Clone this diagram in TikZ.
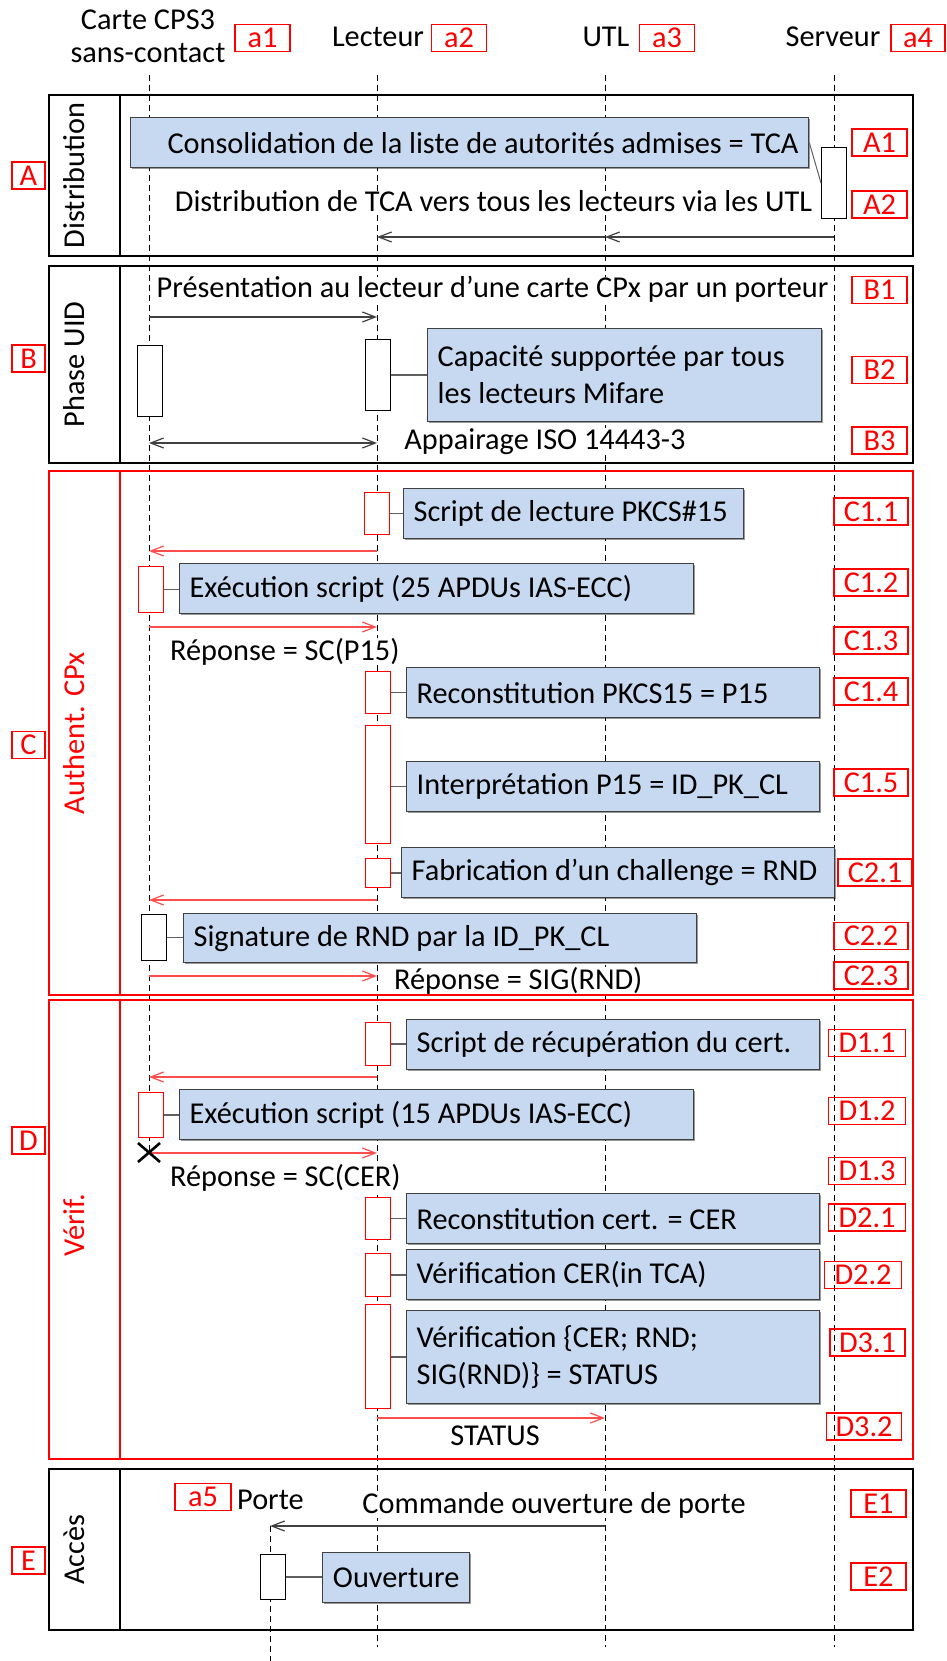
\documentclass[tikz,border=0pt]{standalone}
\usepackage{fontspec}
\setmainfont{Carlito}
\usetikzlibrary{arrows.meta,shadows}
\definecolor{noteblue}{HTML}{C6D9F1}
\definecolor{notedraw}{HTML}{404040}
\definecolor{msgblack}{HTML}{404040}
\definecolor{msgred}{HTML}{FF4D4D}
\definecolor{conngray}{HTML}{606060}
\newcommand{\ntl}[2]{\makebox[#1][l]{#2}}
\newcommand{\ntr}[2]{\makebox[#1][r]{#2}}
\newcommand{\ntc}[2]{\makebox[#1][c]{#2}}
\newcommand{\ntp}[2]{\parbox{#1}{\raggedright #2}}
\tikzset{
  txt/.style={font=\fontsize{30.3}{37}\selectfont, inner sep=0pt},
  msgtxt/.style={txt, fill=white},
  lifeline/.style={draw=black, line width=1pt, dash pattern=on 6pt off 4pt},
  secblack/.style={draw=black, line width=1.3pt},
  secred/.style={draw=red, line width=1.3pt},
  seclab/.style={txt, rotate=90, anchor=base},
  lab/.style={draw=red, text=red, line width=1.4pt, txt, minimum height=27pt, inner sep=0pt},
  actb/.style={draw=black, fill=white, line width=1.2pt, minimum width=25pt, inner sep=0pt, anchor=north west},
  actr/.style={actb, draw=red},
  note/.style={draw=notedraw, fill=noteblue, line width=1.3pt, txt, inner xsep=10pt, inner ysep=0pt,
     anchor=north west,
     drop shadow={shadow xshift=1pt, shadow yshift=-1.5pt, fill=black, opacity=0.4}},
  conn/.style={draw=conngray, line width=1.5pt},
  msg/.style={draw=msgblack, line width=1.4pt, -{Straight Barb[length=13pt,width=10pt,line width=1.2pt]}},
  msgr/.style={msg, draw=msgred},
}
\begin{document}
\begin{tikzpicture}[x=1pt,y=-1pt]
\useasboundingbox (0,0) rectangle (946,1661);
% lifeline ends
\coordinate (cT) at (149,75);  \coordinate (cB) at (149,1152);
\coordinate (lT) at (377,75);  \coordinate (lB) at (377,1647);
\coordinate (uT) at (605,75);  \coordinate (uB) at (605,1647);
\coordinate (sT) at (834,75);  \coordinate (sB) at (834,1647);
\coordinate (pT) at (270,1526); \coordinate (pB) at (270,1661);
\draw[lifeline] (cT) -- (cB);
\draw[lifeline] (lT) -- (lB);
\draw[lifeline] (uT) -- (uB);
\draw[lifeline] (sT) -- (sB);
\draw[lifeline] (pT) -- (pB);

% header
\node[txt, anchor=base] (hcard1) at (148,30) {Carte CPS3};
\node[txt, anchor=base] (hcard2) at (148,63) {sans-contact};
\node[txt, anchor=base] (hlect) at (378,47) {Lecteur};
\node[txt, anchor=base] (hutl) at (606,47) {UTL};
\node[txt, anchor=base] (hserv) at (833,47) {Serveur};
\node[lab, minimum width=55pt] (la1) at (262.5,38) {a1};
\node[lab, minimum width=55pt] (la2) at (459,38) {a2};
\node[lab, minimum width=55pt] (la3) at (667,38) {a3};
\node[lab, minimum width=54pt] (la4) at (918,38) {a4};

% section frames
\draw[secblack] (49,95) rectangle (913,256); \draw[secblack] (120,95) -- (120,256);
\draw[secblack] (49,266) rectangle (913,463); \draw[secblack] (120,266) -- (120,463);
\draw[secred] (49,471) rectangle (913,995); \draw[secred] (120,471) -- (120,995);
\draw[secred] (49,1000) rectangle (913,1459); \draw[secred] (120,1000) -- (120,1459);
\draw[secblack] (49,1469) rectangle (913,1630); \draw[secblack] (120,1469) -- (120,1630);
\node[seclab] (sA) at (84,175.5) {Distribution};
\node[seclab] (sB) at (84,364.5) {Phase UID};
\node[seclab, text=red] (sC) at (84,733) {Authent. CPx};
\node[seclab, text=red] (sD) at (84,1225) {Vérif.};
\node[seclab] (sE) at (84,1549.5) {Accès};
\node[lab, minimum width=33pt] (lA) at (28.5,175.5) {A};
\node[lab, minimum width=33pt] (lB) at (28.5,358.5) {B};
\node[lab, minimum width=33pt] (lC) at (28.5,745) {C};
\node[lab, minimum width=33pt] (lD) at (28.5,1140.5) {D};
\node[lab, minimum width=33pt] (lE) at (28.5,1560.5) {E};

% ===== A =====
\node[actb, minimum height=71pt] (aA) at (821,147) {};
\node[note, minimum height=50pt] (nA) at (130,117)
  {\ntr{658pt}{Consolidation de la liste de autorités admises = TCA}};
\draw[conn, line width=1pt] (nA.east) -- (aA.west);
\node[msgtxt, anchor=base] (tA2) at (493.5,212) {Distribution de TCA vers tous les lecteurs via les UTL};
\coordinate (mA1) at (834,237); \coordinate (mA2) at (605,237); \coordinate (mA3) at (377,237);
\draw[msg] (mA1) -- (mA2);
\draw[msg] (mA2) -- (mA3);
\node[lab, minimum width=55pt] (lA1) at (879.5,142.5) {A1};
\node[lab, minimum width=55pt] (lA2) at (879.5,204.5) {A2};

% ===== B =====
\node[msgtxt, anchor=base] (tB1) at (492.5,298) {Présentation au lecteur d’une carte CPx par un porteur};
\coordinate (mB1a) at (149,317); \coordinate (mB1b) at (377,317);
\draw[msg] (mB1a) -- (mB1b);
\node[actb, minimum height=71pt] (aB1) at (137,345) {};
\node[actb, minimum height=71pt] (aB2) at (365,339) {};
\node[note, minimum height=93pt] (nB) at (427,328)
  {\ntp{374pt}{Capacité supportée par tous\\les lecteurs Mifare}};
\draw[conn] (aB2.east) -- (aB2.east -| nB.west);
\coordinate (mB3a) at (149,443); \coordinate (mB3b) at (377,443);
\draw[msg, {Straight Barb[length=13pt,width=10pt,line width=1.2pt]}-{Straight Barb[length=13pt,width=10pt,line width=1.2pt]}] (mB3a) -- (mB3b);
\node[msgtxt, anchor=base] (tB3) at (545,449) {Appairage ISO 14443-3};
\node[lab, minimum width=55pt] (lB1) at (879.5,290) {B1};
\node[lab, minimum width=55pt] (lB2) at (879.5,370) {B2};
\node[lab, minimum width=55pt] (lB3) at (879.5,440.5) {B3};

% ===== C =====
\node[actr, minimum height=42pt] (aC11) at (364,492) {};
\node[note, minimum height=50pt] (nC11) at (403,488) {\ntl{320pt}{Script de lecture PKCS\#15}};
\draw[conn] (aC11.east) -- (aC11.east -| nC11.west);
\coordinate (mC1a) at (377,551); \coordinate (mC1b) at (149,551);
\draw[msgr] (mC1a) -- (mC1b);
\node[actr, minimum height=46pt] (aC12) at (138,566) {};
\node[note, minimum height=50pt] (nC12) at (179,563) {\ntl{494pt}{Exécution script (25 APDUs IAS-ECC)}};
\draw[conn] (aC12.east) -- (aC12.east -| nC12.west);
\coordinate (mC2a) at (149,627); \coordinate (mC2b) at (377,627);
\draw[msgr] (mC2a) -- (mC2b);
\node[msgtxt, anchor=base west] (tC13) at (170,660) {Réponse = SC(P15)};
\node[actr, minimum height=42pt] (aC14) at (365,671) {};
\node[note, minimum height=50pt] (nC14) at (406,667) {\ntl{393pt}{Reconstitution PKCS15 = P15}};
\draw[conn] (aC14.east) -- (aC14.east -| nC14.west);
\node[actr, minimum height=118pt] (aC15) at (365,725) {};
\node[note, minimum height=50pt] (nC15) at (406,761) {\ntl{393pt}{Interprétation P15 = ID\_PK\_CL}};
\draw[conn] (aC15.east |- nC15.west) -- (nC15.west);
\node[actr, minimum height=29pt] (aC21) at (365,858) {};
\node[note, minimum height=50pt] (nC21) at (401,847) {\ntl{413pt}{Fabrication d’un challenge = RND}};
\draw[conn] (aC21.east) -- (aC21.east -| nC21.west);
\coordinate (mC3a) at (377,900); \coordinate (mC3b) at (149,900);
\draw[msgr] (mC3a) -- (mC3b);
\node[actb, minimum height=46pt] (aC22) at (141,914) {};
\node[note, minimum height=49pt] (nC22) at (183,913) {\ntl{493pt}{Signature de RND par la ID\_PK\_CL}};
\draw[conn] (aC22.east) -- (aC22.east -| nC22.west);
\coordinate (mC4a) at (149,976); \coordinate (mC4b) at (377,976);
\draw[msgr] (mC4a) -- (mC4b);
\node[msgtxt, anchor=base west] (tC23) at (394,989) {Réponse = SIG(RND)};
\node[lab, minimum width=74pt] (lC11) at (871,511.5) {C1.1};
\node[lab, minimum width=74pt] (lC12) at (871,582.5) {C1.2};
\node[lab, minimum width=74pt] (lC13) at (871,640.5) {C1.3};
\node[lab, minimum width=74pt] (lC14) at (871,691.5) {C1.4};
\node[lab, minimum width=74pt] (lC15) at (871,782.5) {C1.5};
\node[lab, minimum width=74pt] (lC21) at (875,872.5) {C2.1};
\node[lab, minimum width=74pt] (lC22) at (871,936) {C2.2};
\node[lab, minimum width=74pt] (lC23) at (871,975.5) {C2.3};

% ===== D =====
\node[actr, minimum height=43pt] (aD11) at (365,1022) {};
\node[note, minimum height=50pt] (nD11) at (406,1019) {\ntl{393pt}{Script de récupération du cert.}};
\draw[conn] (aD11.east) -- (aD11.east -| nD11.west);
\coordinate (mD1a) at (377,1077); \coordinate (mD1b) at (149,1077);
\draw[msgr] (mD1a) -- (mD1b);
\node[actr, minimum height=45pt] (aD12) at (138,1092) {};
\node[note, minimum height=50pt] (nD12) at (179,1089) {\ntl{494pt}{Exécution script (15 APDUs IAS-ECC)}};
\draw[conn] (aD12.east) -- (aD12.east -| nD12.west);
\coordinate (mD2a) at (149,1153); \coordinate (mD2b) at (377,1153);
\draw[msgr] (mD2a) -- (mD2b);
\draw[line width=2.6pt] (138,1143) -- (160,1162) (160,1143) -- (138,1162);
\node[msgtxt, anchor=base west] (tD13) at (170,1186) {Réponse = SC(CER)};
\node[actr, minimum height=42pt] (aD21) at (365,1197) {};
\node[note, minimum height=50pt] (nD21) at (406,1193) {\ntl{393pt}{Reconstitution cert. = CER}};
\draw[conn] (aD21.east) -- (aD21.east -| nD21.west);
\node[actr, minimum height=43pt] (aD22) at (365,1253) {};
\node[note, minimum height=50pt] (nD22) at (406,1249) {\ntl{393pt}{Vérification CER(in TCA)}};
\draw[conn] (aD22.east) -- (aD22.east -| nD22.west);
\node[actr, minimum height=104pt] (aD31) at (365,1304) {};
\node[note, minimum height=93pt] (nD31) at (406,1310) {\ntp{393pt}{Vérification \{CER; RND;\\SIG(RND)\} = STATUS}};
\draw[conn] (aD31.east |- nD31.west) -- (nD31.west);
\coordinate (mD3a) at (377,1418); \coordinate (mD3b) at (605,1418);
\draw[msgr] (mD3a) -- (mD3b);
\node[msgtxt, anchor=base] (tD32) at (495,1445) {STATUS};
\node[lab, minimum width=77pt] (lD11) at (867,1043) {D1.1};
\node[lab, minimum width=77pt] (lD12) at (867,1111) {D1.2};
\node[lab, minimum width=77pt] (lD13) at (867,1171) {D1.3};
\node[lab, minimum width=77pt] (lD21) at (867,1217.5) {D2.1};
\node[lab, minimum width=77pt] (lD22) at (863,1275) {D2.2};
\node[lab, minimum width=75pt] (lD31) at (867.5,1342.5) {D3.1};
\node[lab, minimum width=75pt] (lD32) at (864,1426.5) {D3.2};

% ===== E =====
\node[lab, minimum width=56pt] (la5) at (203,1497) {a5};
\node[msgtxt, anchor=base west] (hporte) at (237,1509) {Porte};
\node[msgtxt, anchor=base] (tE1) at (554,1513) {Commande ouverture de porte};
\coordinate (mE1a) at (605,1526); \coordinate (mE1b) at (270,1526);
\draw[msg] (mE1a) -- (mE1b);
\node[actb, minimum height=45pt] (aE2) at (260,1554) {};
\node[note, minimum height=50pt] (nE2) at (322,1552) {\ntc{127pt}{Ouverture}};
\draw[conn] (aE2.east) -- (aE2.east -| nE2.west);
\node[lab, minimum width=55pt] (lE1) at (878.5,1503.5) {E1};
\node[lab, minimum width=55pt] (lE2) at (878.5,1576.5) {E2};
\end{tikzpicture}
\end{document}
